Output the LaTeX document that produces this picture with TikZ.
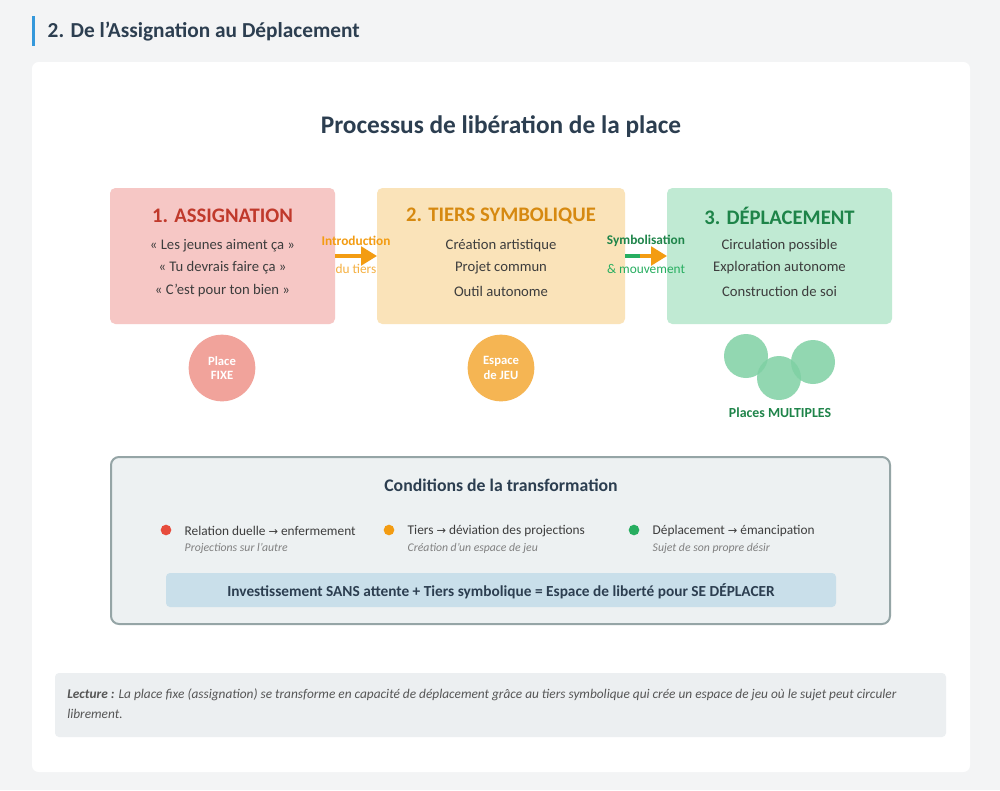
\documentclass[tikz,border=0pt]{standalone}
\usepackage{fontspec}
\setmainfont{Carlito}
\newfontfamily\dv{DejaVu Sans}
\usetikzlibrary{arrows.meta}
\definecolor{bg}{HTML}{F3F4F5}
\definecolor{dark}{HTML}{2C3E50}
\definecolor{txt}{HTML}{3D3D3D}
\definecolor{c1}{HTML}{F6C7C5}\definecolor{t1}{HTML}{C0392B}
\definecolor{c2}{HTML}{FAE3B9}\definecolor{t2}{HTML}{D68910}
\definecolor{c3}{HTML}{C0EAD3}\definecolor{t3}{HTML}{1E8449}
\definecolor{orng}{HTML}{F39C12}\definecolor{grn}{HTML}{27AE60}
\definecolor{blu}{HTML}{3498DB}\definecolor{pc1}{HTML}{F1A39B}
\definecolor{pc2}{HTML}{F5B553}\definecolor{pc3}{HTML}{7FD0A4}
\definecolor{redd}{HTML}{E74C3C}\definecolor{cbg}{HTML}{EDF1F2}
\definecolor{cbd}{HTML}{95A5A6}\definecolor{band}{HTML}{C9DFEA}
\definecolor{lbg}{HTML}{ECEFF1}\definecolor{ltx}{HTML}{555555}
\newcommand{\ar}{{\dv\fontsize{8.5}{8}\selectfont →}}
\tikzset{
 box/.style={rounded corners=4pt, draw=none},
 bt/.style={font=\bfseries\fontsize{15.5}{17}\selectfont},
 bl/.style={font=\fontsize{11}{13}\selectfont, text=txt},
 circ/.style={circle, minimum size=50pt, inner sep=0pt, text=white, align=center, font=\bfseries\fontsize{9.5}{11}\selectfont},
 cond/.style={anchor=west, font=\fontsize{10}{12}\selectfont, text=txt},
 sub/.style={anchor=west, font=\itshape\fontsize{8.8}{10}\selectfont, text=gray},
 dot/.style={circle, minimum size=8pt, inner sep=0pt},
 lab/.style={font=\fontsize{10}{12}\selectfont},
}
\begin{document}
\begin{tikzpicture}[x=0.75pt,y=-0.75pt]
\fill[bg] (0,0) rectangle (1000,790);
\useasboundingbox (0,0) rectangle (1000,790);
\fill[blu] (32,16) rectangle (35,46);
\node[anchor=west, text=dark, font=\bfseries\fontsize{16}{18}\selectfont] (hdr) at (43,32) {2. De l'Assignation au Déplacement};
\fill[white, rounded corners=5pt] (32,62) rectangle (970,772);
\node[text=dark, font=\bfseries\fontsize{19}{21}\selectfont] (title) at (501,127) {Processus de libération de la place};
% boxes
\fill[box,c1] (110,188) rectangle (335,324);
\fill[box,c2] (377,188) rectangle (625,324);
\fill[box,c3] (667,188) rectangle (892,324);
\node[bt,text=t1] (b1) at (222.5,216) {1. ASSIGNATION};
\node[bt,text=t2] (b2) at (501,216) {2. TIERS SYMBOLIQUE};
\node[bt,text=t3] (b3) at (779.5,216) {3. DÉPLACEMENT};
\node[bl] (b1a) at (222.5,246) {« Les jeunes aiment ça »};
\node[bl] (b1b) at (222.5,268) {« Tu devrais faire ça »};
\node[bl] (b1c) at (222.5,291) {« C'est pour ton bien »};
\node[bl] (b2a) at (501,246) {Création artistique};
\node[bl] (b2b) at (501,268) {Projet commun};
\node[bl] (b2c) at (501,291) {Outil autonome};
\node[bl] (b3a) at (779.5,246) {Circulation possible};
\node[bl] (b3b) at (779.5,268) {Exploration autonome};
\node[bl] (b3c) at (779.5,291) {Construction de soi};
% arrows
\coordinate (a1s) at (335,256); \coordinate (a1e) at (377,256);
\draw[orng, line width=2.5pt, -{Triangle[length=12pt,width=14pt]}] (a1s) -- (a1e);
\node[lab, text=orng, font=\bfseries] (l1a) at (356,241) {Introduction};
\node[lab, text=orng!80] (l1b) at (356,269) {du tiers};
\coordinate (a2s) at (625,256); \coordinate (a2m) at (640,256); \coordinate (a2e) at (667,256);
\draw[grn, line width=2.5pt] (a2s) -- (a2m);
\draw[orng, line width=2.5pt, -{Triangle[length=12pt,width=14pt]}] (a2m) -- (a2e);
\node[lab, text=t3, font=\bfseries] (l2a) at (646,241) {Symbolisation};
\node[lab, text=grn] (l2b) at (646,269) {\& mouvement};
% circles
\node[circ, fill=pc1] (p1) at (222,368) {Place\\FIXE};
\node[circ, fill=pc2] (p2) at (501,368) {Espace\\de JEU};
\fill[pc3, opacity=0.85] (746,356) circle (22);
\fill[pc3, opacity=0.85] (779,378) circle (22);
\fill[pc3, opacity=0.85] (813,362) circle (22);
\node[text=t3, font=\bfseries\fontsize{10.4}{12}\selectfont] (pm) at (780,413) {Places MULTIPLES};
% conditions
\draw[fill=cbg, draw=cbd, line width=1.5pt, rounded corners=6pt] (111,457) rectangle (890,624);
\node[text=dark, font=\bfseries\fontsize{13.3}{15}\selectfont] (ct) at (501,485) {Conditions de la transformation};
\node[dot, fill=redd] (d1) at (166,530) {};
\node[dot, fill=orng] (d2) at (389,530) {};
\node[dot, fill=grn] (d3) at (634,530) {};
\node[cond] (c1t) at (180,531) {Relation duelle \ar{} enfermement};
\node[sub] (c1s) at (180,548) {Projections sur l'autre};
\node[cond] (c2t) at (403,531) {Tiers \ar{} déviation des projections};
\node[sub] (c2s) at (403,548) {Création d'un espace de jeu};
\node[cond] (c3t) at (648,531) {Déplacement \ar{} émancipation};
\node[sub] (c3s) at (648,548) {Sujet de son propre désir};
\fill[band, rounded corners=3pt] (166,573) rectangle (836,607);
\node[text=dark, font=\bfseries\fontsize{11.5}{13}\selectfont] (bandt) at (501,591) {Investissement SANS attente + Tiers symbolique = Espace de liberté pour SE DÉPLACER};
% lecture
\fill[lbg, rounded corners=3pt] (55,673) rectangle (946,737);
\node[anchor=north west, text width=655pt, align=flush left, text=ltx, font=\itshape\fontsize{10}{15.5}\selectfont, inner sep=0pt] (lec) at (67,688) {\hyphenpenalty=10000 \textbf{Lecture :} La place fixe (assignation) se transforme en capacité de déplacement grâce au tiers symbolique qui crée un espace de jeu où le sujet peut circuler librement.};
\end{tikzpicture}
\end{document}
